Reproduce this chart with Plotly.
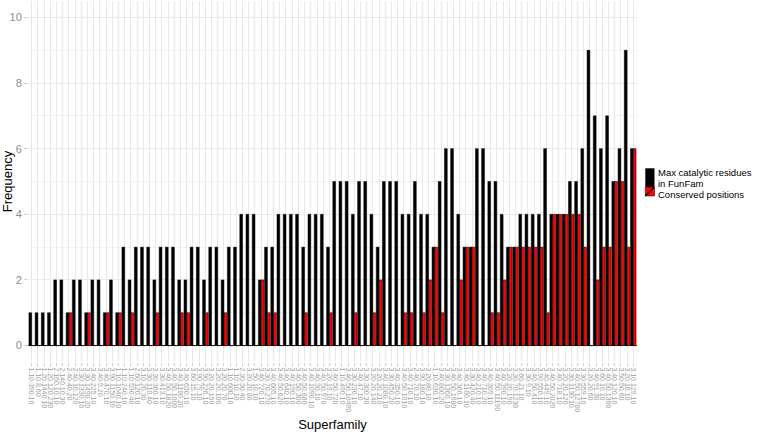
import plotly.graph_objects as go

# ---------------- data ----------------
superfamilies = [
    "1.10.390.10", "1.10.8.60", "1.20.1440.10", "1.20.120.230", "2.160.10.10",
    "2.140.10.30", "2.40.40.20", "2.40.10.120", "3.30.1330.10", "3.30.1490.20",
    "3.40.225.10", "3.40.5.20", "3.40.470.10", "3.90.1150.10", "1.10.1040.10",
    "1.10.240.10", "1.10.530.40", "2.60.120.10", "3.10.20.30", "3.30.110.40",
    "3.30.360.10", "3.30.413.10", "3.40.50.1820", "3.40.50.1000", "3.40.1190.20",
    "3.40.630.10", "3.60.15.10", "3.90.79.10", "3.90.226.10", "3.20.20.150",
    "3.20.20.100", "3.20.20.70", "1.10.600.10", "1.10.10.10", "2.30.30.40",
    "3.20.20.80", "1.50.10.10", "3.40.720.10", "3.30.70.270", "3.40.605.10",
    "3.40.50.620", "3.40.640.10", "3.40.190.10", "3.40.50.300", "3.40.50.880",
    "3.40.1090.10", "3.40.30.10", "3.40.50.970", "3.20.19.10", "3.40.50.720",
    "1.10.490.10", "3.40.50.10490", "3.30.230.10", "3.40.47.10", "3.30.300.30",
    "3.20.20.140", "3.20.20.210", "3.40.1080.10", "3.30.450.20", "3.40.350.10",
    "3.40.50.1010", "3.40.710.10", "2.40.70.10", "3.90.180.10", "3.20.80.10",
    "1.10.630.10", "3.40.800.20", "3.30.1360.10", "3.40.50.1980", "3.40.366.10",
    "3.40.1160.10", "3.30.420.40", "3.40.210.10", "3.40.710.20", "3.40.309.10",
    "3.40.50.11190", "3.40.390.10", "3.20.20.190", "3.30.70.1230", "3.60.21.10",
    "3.30.9.10", "3.40.50.410", "3.90.550.10", "3.40.449.10", "3.40.50.2020",
    "3.40.718.10", "3.20.20.120", "3.30.1130.10", "3.40.50.12780", "3.30.559.10",
    "3.20.20.60", "3.40.91.30", "3.60.10.10", "3.40.50.1360", "3.40.120.10",
    "3.50.50.60", "3.20.16.10", "3.10.129.10",
]

max_catalytic = [
    1, 1, 1, 1, 2, 2, 1, 2, 2, 1, 2, 2, 1, 2, 1, 3, 2, 3, 3, 3, 2, 3, 3, 3, 2, 2, 3, 3, 2,
    3, 3, 2, 3, 3, 4, 4, 4, 2, 3, 3, 4, 4, 4, 4, 3, 4, 4, 4, 3, 5, 5, 5, 4, 5, 5, 4, 3, 5, 5, 5, 4, 4, 5,
    4, 4, 3, 5, 6, 6, 4, 3, 3, 6, 6, 5, 5, 4, 3, 3, 4, 4, 4, 4, 6, 4, 4, 4, 5, 5, 6, 9, 7, 6, 7, 5, 6, 9, 6,
]

conserved = [
    0, 0, 0, 0, 0, 0, 1, 0, 0, 1, 0, 0, 1, 0, 1, 0, 1, 0, 0, 0, 1, 0, 0, 0, 1, 1, 0, 0, 1,
    0, 0, 1, 0, 0, 0, 0, 0, 2, 1, 1, 0, 0, 0, 0, 1, 0, 0, 0, 1, 0, 0, 0, 1, 0, 0, 1, 2, 0, 0, 0, 1, 1, 0,
    1, 2, 3, 1, 0, 0, 2, 3, 3, 0, 0, 1, 1, 2, 3, 3, 3, 3, 3, 3, 1, 4, 4, 4, 4, 4, 3, 0, 2, 3, 3, 5, 5, 3, 6,
]

series_names = ["Max catalytic residues in FunFam", "Conserved positions"]
y_ticks = [0, 2, 4, 6, 8, 10]

assert len(set(superfamilies)) == len(superfamilies) == len(max_catalytic) == len(conserved)

# ---------------- layout constants ----------------
W, H = 758, 434
ML, MR, MT, MB = 28, 121, 1, 72
PW, PH = W - ML - MR, H - MT - MB
FONT = "Liberation Sans, Arial, Helvetica, sans-serif"


def px_x(p):
    return (p - ML) / PW


def px_y(p):
    return (H - MB - p) / PH


fig = go.Figure()
fig.add_trace(go.Bar(
    x=superfamilies, y=max_catalytic, name=series_names[0],
    marker=dict(color="#000000", line=dict(color="#000000", width=0.5)),
))
fig.add_trace(go.Bar(
    x=superfamilies, y=conserved, name=series_names[1],
    marker=dict(color="#ff0000", line=dict(color="#000000", width=0.5)),
))

# manual legend (ggplot-like, keys touching the text)
shapes = [
    dict(type="rect", xref="paper", yref="paper",
         x0=px_x(645.3), x1=px_x(654.5), y0=px_y(187), y1=px_y(168.3),
         fillcolor="#000000", line=dict(width=0)),
    dict(type="rect", xref="paper", yref="paper",
         x0=px_x(645.3), x1=px_x(654.5), y0=px_y(196), y1=px_y(187),
         fillcolor="#ff0000", line=dict(color="#000000", width=0.5)),
    dict(type="line", xref="paper", yref="paper",
         x0=px_x(645.3), x1=px_x(654.5), y0=px_y(196), y1=px_y(187),
         line=dict(color="#000000", width=1.2)),
]
ann = [
    dict(text="Max catalytic residues", x=px_x(656.5), y=px_y(172.6)),
    dict(text="in FunFam", x=px_x(656.5), y=px_y(183.3)),
    dict(text="Conserved positions", x=px_x(656.5), y=px_y(194.0)),
]
for a in ann:
    a.update(xref="paper", yref="paper", xanchor="left", yanchor="middle", showarrow=False,
             borderpad=0, font=dict(family=FONT, size=9.5, color="#000000"))

fig.update_layout(
    width=W, height=H,
    margin=dict(l=ML, r=MR, t=MT, b=MB, pad=0),
    paper_bgcolor="white", plot_bgcolor="white",
    barmode="group", bargap=0.1, bargroupgap=0,
    showlegend=False,
    font=dict(family=FONT, color="#000000"),
    shapes=shapes, annotations=ann,
    xaxis=dict(
        type="category", range=[-0.6, len(superfamilies) - 0.4],
        tickmode="array", tickvals=superfamilies, ticktext=superfamilies,
        tickangle=90, tickfont=dict(size=7, color="#9e9e9e"),
        ticks="outside", ticklen=3, tickcolor="#d0d0d0", tickwidth=0.6,
        showgrid=True, gridcolor="#e8e8e8", gridwidth=0.8,
        showline=False, zeroline=False, automargin=False,
        title=dict(text="Superfamily", font=dict(size=13, color="#000000"), standoff=8),
    ),
    yaxis=dict(
        range=[-0.5, 10.5], tickvals=y_ticks,
        tickfont=dict(size=11, color="#8c8c8c"),
        ticks="outside", ticklen=3, tickcolor="#d0d0d0", tickwidth=0.6,
        showgrid=True, gridcolor="#ebebeb", gridwidth=0.9,
        minor=dict(dtick=1, showgrid=True, gridcolor="#f3f3f3", gridwidth=0.5),
        zeroline=True, zerolinecolor="#4a4a4a", zerolinewidth=0.8,
        showline=False, automargin=False,
        title=dict(text="Frequency", font=dict(size=13, color="#000000"), standoff=4),
    ),
)

fig.write_html(
    "out.html",
    config={"displayModeBar": False},
    post_script="document.body.style.margin='0';document.body.style.padding='0';",
)
